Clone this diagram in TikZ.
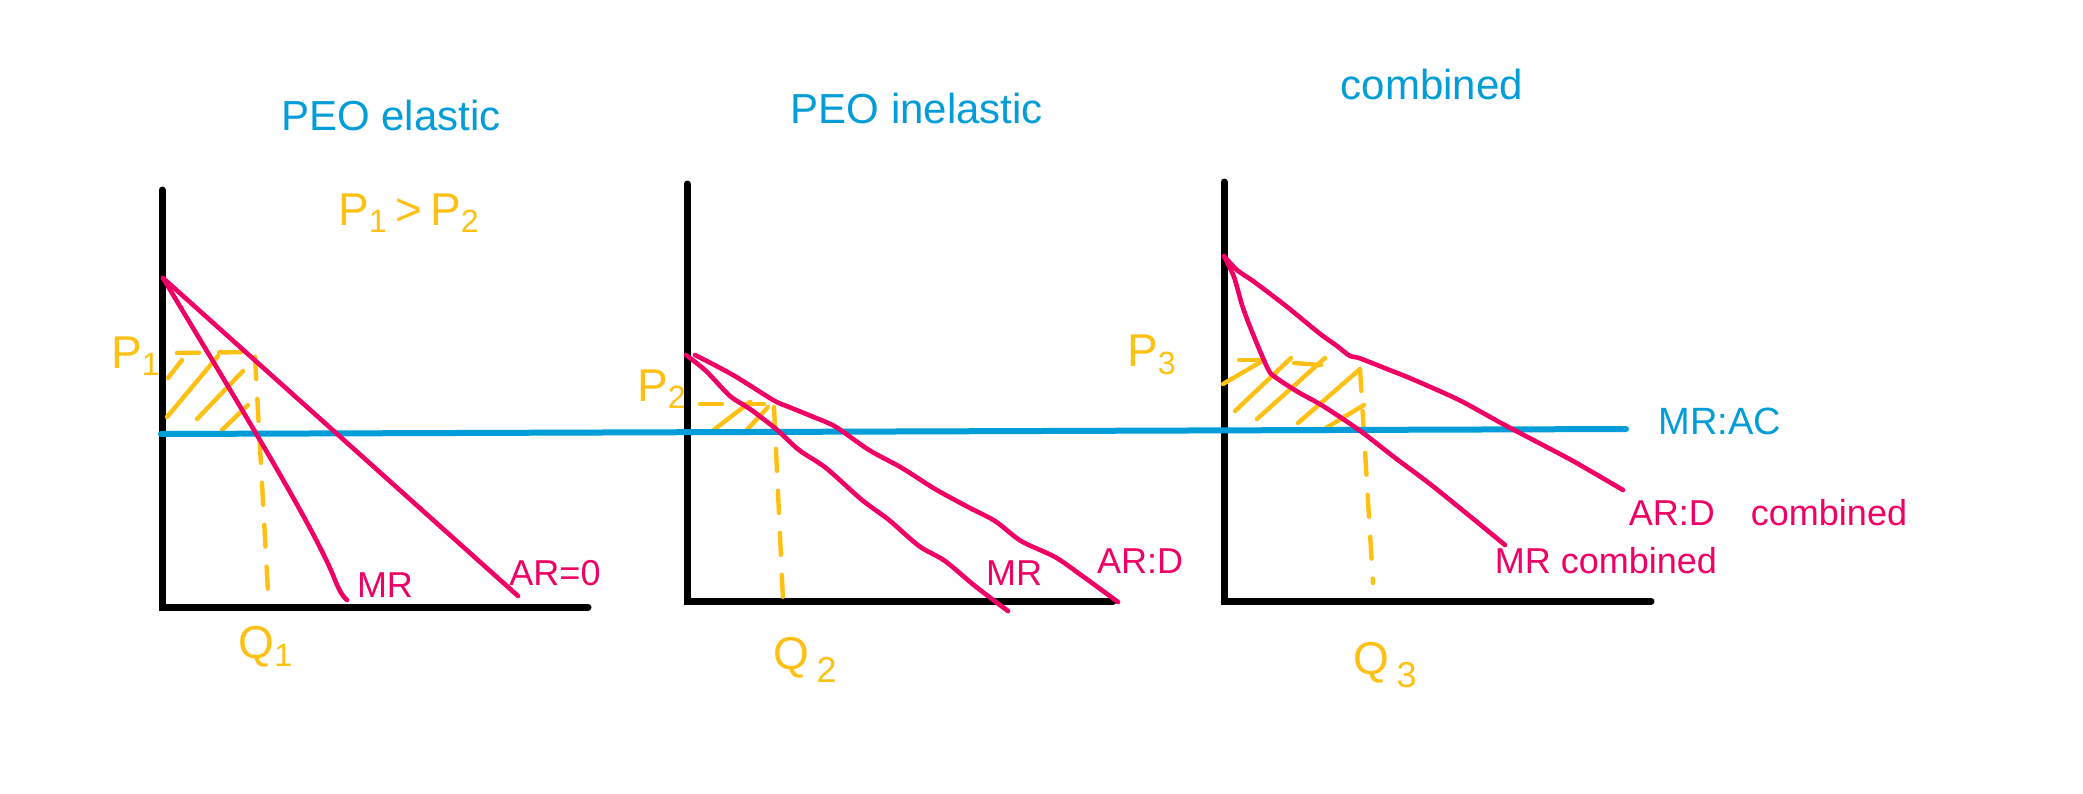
\documentclass[tikz,border=0pt]{standalone}
\usepackage{fontspec}
\setmainfont{Liberation Sans}
\definecolor{myblue}{RGB}{0,157,217}
\definecolor{mypink}{RGB}{240,0,100}
\definecolor{myyellow}{RGB}{255,192,20}
\newcommand{\lowsub}[1]{\,\raisebox{-0.55ex}{\fontsize{18}{20}\selectfont #1}}
\begin{document}
\begin{tikzpicture}[x=0.5pt,y=-0.5pt,
  axisline/.style={black,line width=3.5pt,line cap=round},
  curve/.style={mypink,line width=2.3pt,line cap=round,line join=round},
  costline/.style={myblue,line width=3pt,line cap=round},
  guide/.style={myyellow,line width=2.2pt,line cap=round,dash pattern=on 11pt off 10pt},
  hatch/.style={myyellow,line width=2.2pt,line cap=round},
  title/.style={myblue,font=\fontsize{21}{24}\selectfont},
  pinklab/.style={mypink,font=\fontsize{18}{20}\selectfont},
  bluelab/.style={myblue,font=\fontsize{19}{21}\selectfont},
  ylab/.style={myyellow,font=\fontsize{23}{25}\selectfont}]
\useasboundingbox (0,0) rectangle (2083,793);
\fill[white] (0,0) rectangle (2083,793);

% titles
\node[title] (t1) at (391,115) {PEO elastic};
\node[title] (t2) at (917,108) {PEO inelastic};
\node[title] (t3) at (1432,84) {combined};
\node[ylab] (cmp) at (409,213) {P\textsubscript{1}\,>\,P\textsubscript{2}};

% axes
\coordinate (o1) at (162,607); \coordinate (y1) at (162,190); \coordinate (x1) at (588,607);
\coordinate (o2) at (687,601); \coordinate (y2) at (687,184); \coordinate (x2) at (1113,601);
\coordinate (o3) at (1224,601); \coordinate (y3) at (1224,182); \coordinate (x3) at (1651,601);
\draw[axisline] (y1) -- (o1) -- (x1);
\draw[axisline] (y2) -- (o2) -- (x2);
\draw[axisline] (y3) -- (o3) -- (x3);

% hatching and guides (under curves)
% graph 1
\draw[guide] (177,353) -- (250,352);
\draw[guide] (255,357) -- (268,592);
\draw[hatch] (168,378) -- (182,360);
\draw[hatch] (167,417) -- (218,356);
\draw[hatch] (197,419) -- (243,371);
\draw[hatch] (222,430) -- (248,405);
% graph 2
\draw[guide] (700,404) -- (768,404);
\draw[guide] (774,407) -- (783,600);
\draw[hatch] (711,432) -- (750,402);
\draw[hatch] (745,432) -- (768,407);
% graph 3
\draw[guide] (1360,369) -- (1373,583);
\draw[hatch] (1223,384) -- (1264,360);
\draw[hatch] (1239,360) -- (1264,360);
\draw[hatch] (1235,411) -- (1291,358);
\draw[hatch] (1257,419) -- (1325,358);
\draw[hatch] (1294,363) -- (1321,365);
\draw[hatch] (1298,423) -- (1360,369);
\draw[hatch] (1326,428) -- (1364,405);

% cost line (MR = AC)
\coordinate (c0) at (161,434);
\coordinate (c1) at (1626,429);
\draw[costline] (c0) -- (c1);

% graph 1 curves
\coordinate (top1) at (163,278);
\coordinate (ar1end) at (518,596);
\draw[curve] (top1) -- (ar1end);
\draw[curve] (top1) .. controls (230,390) and (310,520) .. (333,575) .. controls (338,588) and (342,596) .. (347,600);

% graph 2 curves
\draw[curve] plot[smooth,tension=0.5] coordinates {(695,355) (733,375) (773,400) (789,407) (816,418) (836,427) (869,450) (902,468) (935,489) (968,507) (995,521) (1021,541) (1055,557) (1081,575) (1118,602)};
\draw[curve] plot[smooth,tension=0.5] coordinates {(686,355) (706,371) (730,396) (750,409) (776,429) (799,450) (826,468) (862,500) (889,520) (919,546) (945,561) (975,586) (1008,611)};

% graph 3 curves
\draw[curve] plot[smooth,tension=0.5] coordinates {(1224,256) (1237,270) (1253,281) (1273,296) (1291,310) (1319,333) (1337,346) (1350,356) (1359,358) (1387,369) (1412,379) (1459,400) (1501,423) (1537,442) (1573,461) (1623,490)};
\draw[curve] plot[smooth,tension=0.5] coordinates {(1224,256) (1234,277) (1243,308) (1255,339) (1268,369) (1275,377) (1298,392) (1323,406) (1359,430) (1394,457) (1430,484) (1466,513) (1505,545)};

% labels
\node[ylab] (p1) at (136,356) {P\textsubscript{1}};
\node[ylab] (p2) at (662,389) {P\textsubscript{2}};
\node[ylab] (p3) at (1152,355) {P\textsubscript{3}};
\node[ylab] (q1) at (266,647) {Q\textsubscript{1}};
\node[ylab] (q2) at (805,660) {Q\lowsub{2}};
\node[ylab] (q3) at (1385,665) {Q\lowsub{3}};

\node[pinklab] (mr1) at (385,585) {MR};
\node[pinklab] (ar1) at (555,573) {AR=0};
\node[pinklab] (mr2) at (1014,573) {MR};
\node[pinklab] (ar2) at (1140,561) {AR:D};
\node[bluelab] (mrac) at (1720,421) {MR:AC};
\node[pinklab] (ar3) at (1768,513) {AR:D\quad combined};
\node[pinklab] (mr3) at (1606,561) {MR combined};
\end{tikzpicture}
\end{document}
